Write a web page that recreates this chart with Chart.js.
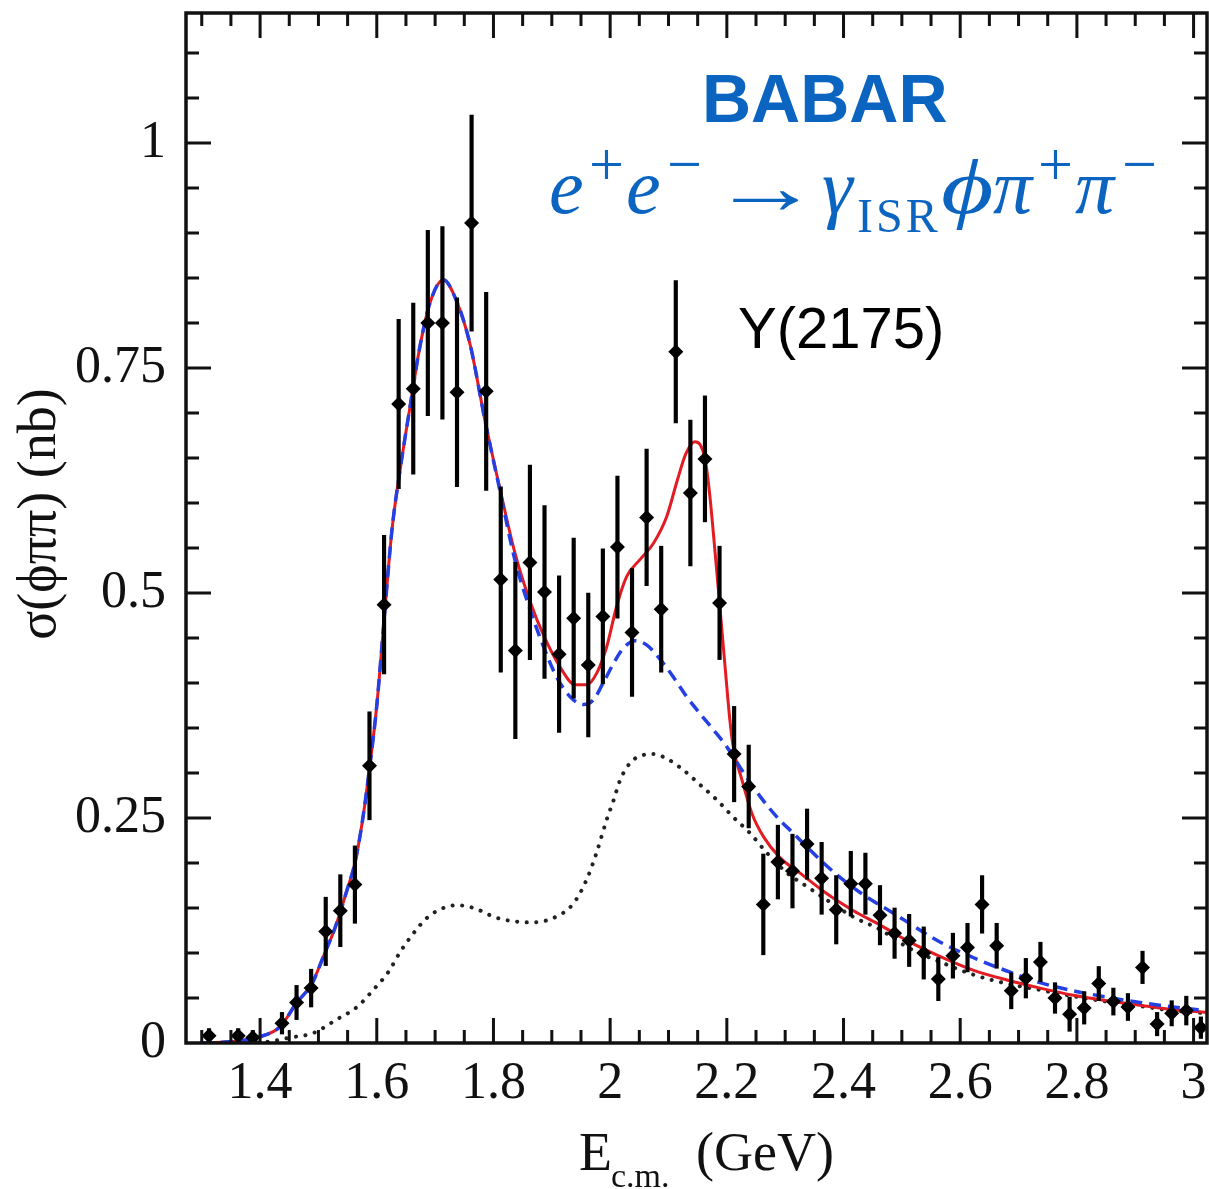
<!DOCTYPE html>
<html>
<head>
<meta charset="utf-8">
<script src="https://cdn.jsdelivr.net/npm/chart.js@4.4.1/dist/chart.umd.min.js"></script>
<style>
  html, body { margin: 0; padding: 0; background: #fff; }
  canvas { display: block; }
</style>
</head>
<body>
<canvas id="xsec" width="1209" height="1189"></canvas>
<script>
// measured cross section, 25 MeV bins (GeV, nb)
const energy = [1.3125, 1.3625, 1.3875, 1.4375, 1.4625, 1.4875, 1.5125, 1.5375, 1.5625, 1.5875,
  1.6125, 1.6375, 1.6625, 1.6875, 1.7125, 1.7375, 1.7625, 1.7875, 1.8125, 1.8375,
  1.8625, 1.8875, 1.9125, 1.9375, 1.9625, 1.9875, 2.0125, 2.0375, 2.0625, 2.0875,
  2.1125, 2.1375, 2.1625, 2.1875, 2.2125, 2.2375, 2.2625, 2.2875, 2.3125, 2.3375,
  2.3625, 2.3875, 2.4125, 2.4375, 2.4625, 2.4875, 2.5125, 2.5375, 2.5625, 2.5875,
  2.6125, 2.6375, 2.6625, 2.6875, 2.7125, 2.7375, 2.7625, 2.7875, 2.8125, 2.8375,
  2.8625, 2.8875, 2.9125, 2.9375, 2.9625, 2.9875, 3.0125];
const sigma = [0.008, 0.008, 0.006, 0.022, 0.045, 0.061, 0.124, 0.147, 0.176, 0.308,
  0.487, 0.710, 0.727, 0.800, 0.800, 0.723, 0.911, 0.724, 0.515, 0.436,
  0.534, 0.501, 0.432, 0.472, 0.420, 0.474, 0.551, 0.456, 0.584, 0.482,
  0.768, 0.611, 0.649, 0.489, 0.321, 0.285, 0.154, 0.201, 0.191, 0.221,
  0.183, 0.148, 0.177, 0.177, 0.142, 0.122, 0.114, 0.100, 0.071, 0.097,
  0.106, 0.154, 0.108, 0.058, 0.072, 0.090, 0.050, 0.032, 0.039, 0.066,
  0.046, 0.040, 0.084, 0.021, 0.033, 0.036, 0.017];
const sigmaErr = [0.008, 0.008, 0.008, 0.012, 0.019, 0.021, 0.038, 0.040, 0.043, 0.060,
  0.077, 0.094, 0.095, 0.103, 0.107, 0.105, 0.120, 0.110, 0.103, 0.098,
  0.108, 0.096, 0.087, 0.089, 0.080, 0.075, 0.079, 0.071, 0.076, 0.070,
  0.079, 0.081, 0.070, 0.063, 0.053, 0.046, 0.056, 0.041, 0.041, 0.039,
  0.040, 0.038, 0.036, 0.034, 0.033, 0.028, 0.029, 0.029, 0.024, 0.025,
  0.027, 0.032, 0.025, 0.020, 0.022, 0.022, 0.017, 0.019, 0.018, 0.019,
  0.015, 0.015, 0.018, 0.013, 0.014, 0.016, 0.012];

// total fit (solid red)
const totalX = [1.30, 1.34, 1.37, 1.40, 1.434, 1.463, 1.489, 1.509, 1.529, 1.549,
  1.5625, 1.575, 1.5875, 1.60, 1.6125, 1.626, 1.64, 1.657, 1.674, 1.691,
  1.714, 1.737, 1.76, 1.786, 1.811, 1.837, 1.863, 1.888, 1.914, 1.94,
  1.96, 1.977, 1.994, 2.011, 2.028, 2.051, 2.074, 2.097, 2.115, 2.13,
  2.145, 2.155, 2.163, 2.171, 2.18, 2.188, 2.197, 2.205, 2.211, 2.226,
  2.243, 2.263, 2.291, 2.325, 2.371, 2.417, 2.463, 2.508, 2.566, 2.622,
  2.68, 2.737, 2.794, 2.851, 2.908, 2.965, 3.023];
const totalY = [0.000, 0.001, 0.003, 0.007, 0.018, 0.045, 0.066, 0.097, 0.129, 0.170,
  0.200, 0.245, 0.305, 0.375, 0.470, 0.570, 0.637, 0.707, 0.774, 0.822,
  0.848, 0.824, 0.776, 0.690, 0.616, 0.544, 0.490, 0.450, 0.418, 0.398,
  0.398, 0.411, 0.440, 0.485, 0.518, 0.537, 0.555, 0.585, 0.625, 0.655,
  0.668, 0.664, 0.648, 0.607, 0.544, 0.485, 0.418, 0.360, 0.329, 0.292,
  0.255, 0.229, 0.206, 0.189, 0.166, 0.147, 0.131, 0.114, 0.096, 0.081,
  0.070, 0.061, 0.053, 0.047, 0.042, 0.037, 0.034];

// fit without the Y(2175) (dashed blue)
const noYX = [1.30, 1.34, 1.37, 1.40, 1.434, 1.463, 1.489, 1.509, 1.529, 1.549,
  1.5625, 1.575, 1.5875, 1.60, 1.6125, 1.626, 1.64, 1.657, 1.674, 1.691,
  1.714, 1.737, 1.76, 1.786, 1.811, 1.837, 1.863, 1.886, 1.908, 1.931,
  1.954, 1.971, 1.988, 2.006, 2.023, 2.043, 2.063, 2.086, 2.108, 2.131,
  2.154, 2.177, 2.2, 2.228, 2.257, 2.286, 2.314, 2.348, 2.383, 2.429,
  2.486, 2.566, 2.622, 2.68, 2.737, 2.794, 2.851, 2.908, 2.965, 3.023];
const noYY = [0.000, 0.001, 0.003, 0.007, 0.018, 0.045, 0.066, 0.097, 0.129, 0.170,
  0.200, 0.245, 0.305, 0.375, 0.470, 0.570, 0.637, 0.707, 0.774, 0.822,
  0.848, 0.824, 0.776, 0.690, 0.614, 0.536, 0.481, 0.440, 0.407, 0.385,
  0.376, 0.381, 0.400, 0.422, 0.439, 0.447, 0.442, 0.426, 0.407, 0.385,
  0.366, 0.348, 0.329, 0.301, 0.274, 0.251, 0.233, 0.211, 0.190, 0.167,
  0.144, 0.112, 0.095, 0.080, 0.067, 0.058, 0.051, 0.045, 0.040, 0.036];

// single component (dotted)
const compX = [1.38, 1.42, 1.451, 1.491, 1.531, 1.566, 1.594, 1.62, 1.64, 1.663,
  1.686, 1.714, 1.737, 1.766, 1.806, 1.863, 1.903, 1.937, 1.96, 1.977,
  1.994, 2.006, 2.017, 2.034, 2.057, 2.074, 2.097, 2.126, 2.154, 2.183,
  2.211, 2.24, 2.269, 2.303, 2.337, 2.371, 2.417, 2.463, 2.508, 2.566,
  2.622, 2.68, 2.737, 2.794, 2.851, 2.908, 2.965, 3.023];
const compY = [0.000, 0.002, 0.006, 0.011, 0.026, 0.040, 0.059, 0.079, 0.101, 0.122,
  0.139, 0.150, 0.153, 0.150, 0.139, 0.134, 0.139, 0.155, 0.182, 0.212,
  0.248, 0.270, 0.292, 0.311, 0.320, 0.321, 0.316, 0.303, 0.287, 0.270,
  0.251, 0.233, 0.211, 0.189, 0.174, 0.159, 0.140, 0.126, 0.107, 0.090,
  0.076, 0.066, 0.059, 0.052, 0.046, 0.041, 0.036, 0.033];

const xTicks = [1.4, 1.6, 1.8, 2, 2.2, 2.4, 2.6, 2.8, 3];
const yTicks = [0, 0.25, 0.5, 0.75, 1];

const serif = "'Liberation Serif', 'Times New Roman', serif";
const sans = "'Liberation Sans', Arial, sans-serif";
const ink = '#111';
const babarBlue = '#0a64c0';

const pairs = (xs, ys) => xs.map((x, i) => ({ x: x, y: ys[i] }));
const isMajor = (list, v) => list.some(t => Math.abs(t - v) < 1e-6);

// closed frame with inward ticks on all four sides
const frameTicks = {
  id: 'frameTicks',
  afterDatasetsDraw(chart) {
    const { ctx, chartArea: a, scales: { x, y } } = chart;
    ctx.save();
    ctx.strokeStyle = ink;
    ctx.lineWidth = 3;
    ctx.beginPath();
    for (let k = Math.ceil(x.min / 0.05 - 1e-9); k * 0.05 <= x.max + 1e-9; k++) {
      const v = k * 0.05;
      const len = isMajor(xTicks, v) ? 25 : 13;
      const px = x.getPixelForValue(v);
      ctx.moveTo(px, a.bottom); ctx.lineTo(px, a.bottom - len);
      ctx.moveTo(px, a.top); ctx.lineTo(px, a.top + len);
    }
    for (let k = 1; k * 0.05 <= y.max + 1e-9; k++) {
      const v = k * 0.05;
      const len = isMajor(yTicks, v) ? 25 : 13;
      const py = y.getPixelForValue(v);
      ctx.moveTo(a.left, py); ctx.lineTo(a.left + len, py);
      ctx.moveTo(a.right, py); ctx.lineTo(a.right - len, py);
    }
    ctx.stroke();
    ctx.lineWidth = 3.5;
    ctx.strokeRect(a.left, a.top, a.right - a.left, a.bottom - a.top);
    ctx.restore();
  }
};

// reaction text: [text, x, baseline, font, horizontal stretch, letter spacing]
const it = `italic 78px ${serif}`;
const sup = `62px ${serif}`;
const reaction = [
  ['e', 549, 213, it, 1, 0],
  ['+', 589, 185, sup, 1, 0],
  ['e', 626, 213, it, 1, 0],
  ['\u2212', 667, 185, sup, 1, 0],
  ['\u2192', 711, 213, `78px ${serif}`, 1.4, 0],
  ['\u03b3', 822, 213, it, 1, 0],
  ['ISR', 857, 232, `48px ${serif}`, 1, 3],
  ['\u03d5', 941, 213, it, 1.3, 0],
  ['\u03c0', 993, 213, it, 1, 0],
  ['+', 1038, 185, sup, 1, 0],
  ['\u03c0', 1075, 213, it, 1, 0],
  ['\u2212', 1122, 185, sup, 1, 0]
];

const textLabels = {
  id: 'textLabels',
  afterDraw(chart) {
    const ctx = chart.ctx;
    ctx.save();
    ctx.textAlign = 'left';
    ctx.textBaseline = 'alphabetic';
    ctx.fillStyle = babarBlue;
    ctx.font = `bold 68px ${sans}`;
    ctx.fillText('BABAR', 702, 122);
    reaction.forEach(([s, x, y, f, sx, ls]) => {
      ctx.save();
      ctx.font = f;
      ctx.letterSpacing = ls + 'px';
      ctx.translate(x, y);
      ctx.scale(sx, 1);
      ctx.fillText(s, 0, 0);
      ctx.restore();
    });

    ctx.fillStyle = '#000';
    ctx.font = `58px ${sans}`;
    ctx.fillText('Y(2175)', 738, 348);

    ctx.fillStyle = ink;
    ctx.font = `54px ${serif}`;
    ctx.fillText('E', 579, 1170);
    ctx.font = `34px ${serif}`;
    ctx.fillText('c.m.', 611, 1187);
    ctx.font = `54px ${serif}`;
    ctx.fillText('(GeV)', 696, 1170);

    ctx.translate(55, 514);
    ctx.rotate(-Math.PI / 2);
    ctx.textAlign = 'center';
    ctx.font = `54px ${serif}`;
    ctx.fillText('\u03c3(\u03d5\u03c0\u03c0) (nb)', 0, 0);
    ctx.restore();
  }
};

new Chart(document.getElementById('xsec'), {
  type: 'line',
  data: {
    datasets: [
      {
        label: 'data',
        data: pairs(energy, sigma),
        showLine: false,
        pointStyle: 'rectRot',
        pointRadius: 7.5,
        pointBackgroundColor: '#000',
        pointBorderWidth: 0,
        order: 0
      },
      {
        type: 'bar',
        label: 'errors',
        data: energy.map((e, i) => ({ x: e, y: [sigma[i] - sigmaErr[i], sigma[i] + sigmaErr[i]] })),
        backgroundColor: '#000',
        borderWidth: 0,
        barThickness: 3.5,
        order: 1
      },
      {
        label: 'fit without Y(2175)',
        data: pairs(noYX, noYY),
        borderColor: '#2440e4',
        borderWidth: 3.5,
        borderDash: [12, 7],
        pointRadius: 0,
        cubicInterpolationMode: 'monotone',
        order: 2
      },
      {
        label: 'total fit',
        data: pairs(totalX, totalY),
        borderColor: '#e31b23',
        borderWidth: 3,
        pointRadius: 0,
        cubicInterpolationMode: 'monotone',
        order: 3
      },
      {
        label: 'component',
        data: pairs(compX, compY),
        borderColor: '#222',
        borderWidth: 4,
        borderDash: [0.1, 9.5],
        borderCapStyle: 'round',
        pointRadius: 0,
        cubicInterpolationMode: 'monotone',
        order: 4
      }
    ]
  },
  options: {
    responsive: false,
    animation: false,
    devicePixelRatio: 1,
    layout: { autoPadding: false, padding: { top: 13, right: 2, left: 0, bottom: 0 } },
    plugins: { legend: { display: false }, tooltip: { enabled: false } },
    scales: {
      x: {
        type: 'linear',
        min: 1.273,
        max: 3.023,
        offset: false,
        grid: { display: false, drawTicks: false },
        border: { display: false },
        afterBuildTicks: s => { s.ticks = xTicks.map(v => ({ value: v })); },
        afterFit: s => { s.height = 146; s.paddingLeft = 0; s.paddingRight = 0; },
        ticks: {
          font: { family: serif, size: 52 },
          color: ink,
          padding: 10,
          maxRotation: 0,
          autoSkip: false,
          callback: v => String(Math.round(v * 10) / 10)
        }
      },
      y: {
        type: 'linear',
        min: 0,
        max: 1.1444,
        grid: { display: false, drawTicks: false },
        border: { display: false },
        afterBuildTicks: s => { s.ticks = yTicks.map(v => ({ value: v })); },
        afterFit: s => { s.width = 186; s.paddingTop = 0; s.paddingBottom = 0; },
        ticks: {
          font: { family: serif, size: 52 },
          color: ink,
          padding: 20,
          callback: v => String(v)
        }
      }
    }
  },
  plugins: [frameTicks, textLabels]
});
</script>
</body>
</html>
